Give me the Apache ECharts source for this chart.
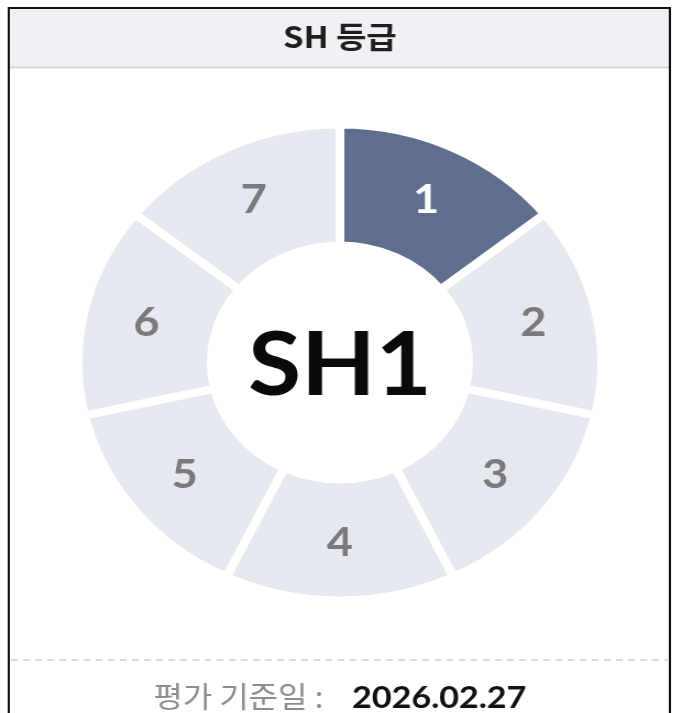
<!DOCTYPE html>
<html>
<head>
<meta charset="utf-8">
<script src="https://cdn.jsdelivr.net/npm/echarts@6/dist/echarts.min.js"></script>
<style>
  html, body { margin: 0; padding: 0; background: #fff; overflow: hidden; }
  /* the reference is a horizontally stretched screenshot, so stretch the canvas too */
  #main { width: 618px; height: 713px; transform: scaleX(1.1); transform-origin: 0 0; }
</style>
</head>
<body>
<div id="main"></div>
<script>
// grade ring data
var grades = ['1', '2', '3', '4', '5', '6', '7'];
var gradeShares = [1, 1, 1, 1, 1, 1, 1];
var currentGrade = '1';
var centerText = 'SH1';
var titleText = 'SH 등급';
var dateLabel = '평가 기준일 :';
var dateValue = '2026.02.27';

var chart = echarts.init(document.getElementById('main'), null, { renderer: 'canvas' });

var activeColor = '#5f6e8e';
var idleColor = '#e5e8ef';

var pieData = grades.map(function (g, i) {
  var on = g === currentGrade;
  return {
    name: g,
    value: gradeShares[i],
    itemStyle: { color: on ? activeColor : idleColor },
    label: { color: on ? '#ffffff' : '#7a7a7a' }
  };
});

var option = {
  backgroundColor: '#ffffff',
  animation: false,
  graphic: [
    // header band
    { type: 'rect', z: 1, shape: { x: 8, y: 9, width: 601, height: 58 }, style: { fill: '#eff1f5' } },
    { type: 'line', z: 2, shape: { x1: 8, y1: 67.5, x2: 609, y2: 67.5 }, style: { stroke: '#d3d7de', lineWidth: 2 } },
    // outer frame
    { type: 'rect', z: 3, shape: { x: 8, y: 8, width: 601, height: 730 }, style: { fill: 'none', stroke: '#111', lineWidth: 2 } },
    // dashed divider
    { type: 'line', z: 2, shape: { x1: 10, y1: 660, x2: 607, y2: 660 }, style: { stroke: '#cfcfcf', lineWidth: 1.5, lineDash: [6, 5] } },
    {
      type: 'text', z: 5, x: 309, y: 37,
      style: {
        text: titleText, align: 'center', verticalAlign: 'middle',
        font: 'bold 30px "Noto Sans CJK KR"', fill: '#1e1e1e'
      }
    },
    {
      type: 'text', z: 5, x: 309, y: 367,
      style: {
        text: centerText, align: 'center', verticalAlign: 'middle',
        font: 'bold 88px Lato', fill: '#0a0a0a'
      }
    },
    {
      type: 'text', z: 5, x: 294, y: 697,
      style: {
        text: dateLabel, align: 'right', verticalAlign: 'middle',
        font: '29px "Noto Sans CJK KR"', fill: '#8c8c8c'
      }
    },
    {
      type: 'text', z: 5, x: 320, y: 698,
      style: {
        text: dateValue, align: 'left', verticalAlign: 'middle',
        font: 'bold 31px Lato', fill: '#111'
      }
    }
  ],
  series: [
    {
      type: 'pie',
      silent: true,
      startAngle: 90,
      clockwise: true,
      center: ['50%', 362.5],
      radius: [117, 238],
      avoidLabelOverlap: false,
      itemStyle: { borderColor: '#ffffff', borderWidth: 8 },
      label: {
        show: true,
        position: 'inside',
        formatter: '{b}',
        fontFamily: 'Lato',
        fontWeight: 'bold',
        fontSize: 41
      },
      labelLine: { show: false },
      emphasis: { disabled: true },
      data: pieData
    }
  ]
};

chart.setOption(option);
</script>
</body>
</html>
